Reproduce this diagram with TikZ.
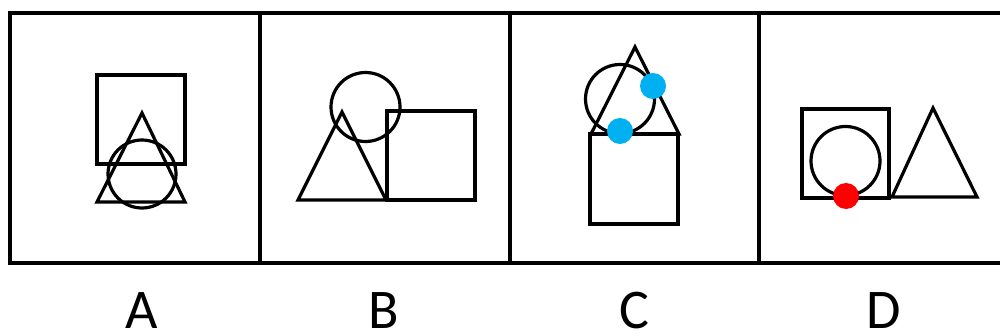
\documentclass[tikz,border=0pt]{standalone}
\usepackage{fontspec}
\setmainfont{Carlito}
\usepackage{tikz}
\definecolor{dotblue}{RGB}{0,176,240}
\definecolor{dotred}{RGB}{255,0,0}

\begin{document}
\begin{tikzpicture}[x=1pt,y=-1pt,
  fig/.style={line width=3.2pt, line join=miter},
  dot/.style={fill=#1, draw=none},
  lbl/.style={font=\fontsize{56}{56}\selectfont, anchor=base, inner sep=0pt}]
\useasboundingbox (0,0) rectangle (1000,334);
% frame and dividers
\draw[fig] (10,13) rectangle (1010,263);
\foreach \x in {260,510,759}
  \draw[fig] (\x,13) -- (\x,263);
% A
\draw[fig] (97,75) rectangle (185,164);
\draw[fig] (142,113) -- (185,202) -- (97,202) -- cycle;
\draw[fig] (142,174) circle [radius=34pt];
% B
\draw[fig] (365.5,107) circle [radius=34.5pt];
\draw[fig] (342,112) -- (386,200) -- (298,200) -- cycle;
\draw[fig] (387,111) rectangle (475,200);
% C
\draw[fig] (620,99) circle [radius=34.5pt];
\draw[fig] (635,47) -- (679,134) -- (591,134) -- cycle;
\draw[fig] (590,134) rectangle (678,224);
\fill[dot=dotblue] (653,86) circle [radius=13pt];
\fill[dot=dotblue] (620,131) circle [radius=13pt];
% D
\draw[fig] (802,109) rectangle (889,198);
\draw[fig] (845.5,161) circle [radius=34.5pt];
\fill[dot=dotred] (846,196) circle [radius=13pt];
\draw[fig] (933,108) -- (977,197) -- (892,197) -- cycle;
% labels
\node[lbl] (labA) at (142,328) {A};
\node[lbl] (labB) at (384,328) {B};
\node[lbl] (labC) at (634,328) {C};
\node[lbl] (labD) at (884,328) {D};
\end{tikzpicture}
\end{document}
